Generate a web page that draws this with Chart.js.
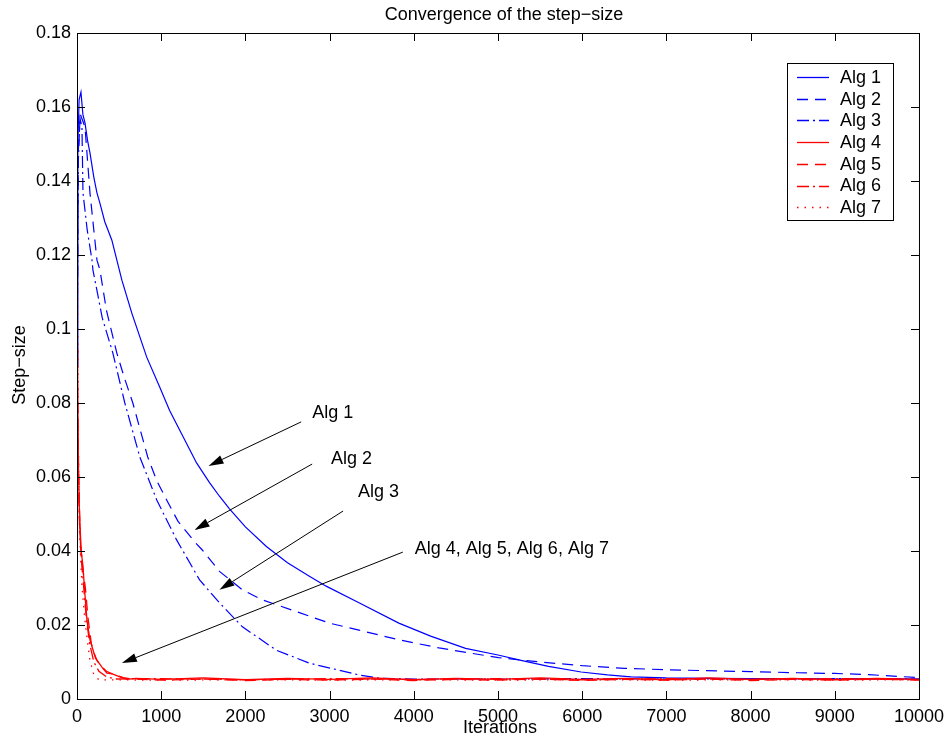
<!DOCTYPE html>
<html>
<head>
<meta charset="utf-8">
<script src="https://cdn.jsdelivr.net/npm/chart.js@4.4.0/dist/chart.umd.min.js"></script>
<style>
  html, body { margin: 0; padding: 0; background: #fff; }
</style>
</head>
<body>
<canvas id="mycanvas" width="951" height="738"></canvas>
<script>
// series names and axis ticks
var seriesNames = ['Alg 1', 'Alg 2', 'Alg 3', 'Alg 4', 'Alg 5', 'Alg 6', 'Alg 7'];
var xTicks = [0, 1000, 2000, 3000, 4000, 5000, 6000, 7000, 8000, 9000, 10000];
var yTicks = [0, 0.02, 0.04, 0.06, 0.08, 0.1, 0.12, 0.14, 0.16, 0.18];
var yTickLabels = ['0', '0.02', '0.04', '0.06', '0.08', '0.1', '0.12', '0.14', '0.16', '0.18'];

// values (iteration, step-size)
var alg1Iter = [0, 10, 25, 47, 70, 95, 125, 154, 200, 237, 272, 330, 414, 533, 651, 828, 982, 1100, 1219, 1420, 1574, 1692, 1811, 2000, 2249, 2500, 2750, 2959, 3349, 3822, 4200, 4615, 5000, 5300, 5600, 5988, 6300, 6580, 7000, 7500, 8000, 8500, 9000, 9500, 10000];
var alg1Step = [0.09, 0.15, 0.162, 0.164, 0.158, 0.1557, 0.151, 0.1476, 0.141, 0.1368, 0.134, 0.129, 0.124, 0.1132, 0.1043, 0.0924, 0.0843, 0.078, 0.0727, 0.0638, 0.0585, 0.0548, 0.0514, 0.0465, 0.0412, 0.0368, 0.0333, 0.0305, 0.026, 0.0205, 0.017, 0.0137, 0.0119, 0.0103, 0.0088, 0.0073, 0.0065, 0.006, 0.0057, 0.0056, 0.0055, 0.0055, 0.0054, 0.0055, 0.0054];

var alg2Iter = [0, 15, 40, 95, 154, 237, 272, 350, 473, 560, 663, 840, 947, 1065, 1200, 1396, 1491, 1692, 1965, 2200, 2556, 3000, 3349, 3822, 4300, 4700, 5006, 5500, 6000, 6500, 7000, 7600, 8000, 8556, 9000, 9400, 9740, 10000];
var alg2Step = [0.09, 0.148, 0.158, 0.1546, 0.1368, 0.1186, 0.116, 0.105, 0.0935, 0.087, 0.08, 0.0654, 0.059, 0.0538, 0.048, 0.0425, 0.0402, 0.0345, 0.0295, 0.0268, 0.024, 0.0205, 0.0186, 0.016, 0.0138, 0.0123, 0.0112, 0.01, 0.009, 0.0083, 0.0079, 0.0076, 0.0074, 0.0071, 0.0069, 0.0066, 0.0061, 0.0058];

var alg3Iter = [0, 15, 35, 59, 71, 120, 178, 189, 300, 426, 568, 746, 947, 1183, 1456, 1692, 1965, 2367, 2757, 3349, 3600, 4000, 5000, 6000, 7000, 8000, 9000, 10000];
var alg3Step = [0.09, 0.145, 0.157, 0.1546, 0.1368, 0.127, 0.1186, 0.116, 0.103, 0.0935, 0.08, 0.0654, 0.0538, 0.043, 0.0322, 0.026, 0.0195, 0.0132, 0.0097, 0.0065, 0.0056, 0.0054, 0.0054, 0.0055, 0.0054, 0.0054, 0.0055, 0.0054];

var alg4Iter = [0, 8, 15, 30, 50, 70, 95, 120, 154, 200, 237, 300, 355, 420, 509, 592, 700, 1000, 1500, 2000, 2500, 3000, 3500, 4000, 4500, 5000, 5500, 6000, 6500, 7000, 7500, 8000, 8500, 9000, 9500, 10000];
var alg4Step = [0.095, 0.09, 0.065, 0.05, 0.04, 0.036, 0.028, 0.021, 0.016, 0.0125, 0.0105, 0.0085, 0.007, 0.0068, 0.006, 0.0053, 0.0056, 0.0053, 0.0057, 0.0052, 0.0056, 0.0053, 0.0057, 0.0052, 0.0056, 0.0053, 0.0057, 0.0053, 0.0056, 0.0052, 0.0057, 0.0053, 0.0056, 0.0052, 0.0056, 0.0053];

var alg5Iter = [0, 10, 20, 40, 70, 100, 130, 170, 220, 280, 350, 450, 550, 650, 1000, 1500, 2000, 2500, 3000, 3500, 4000, 4500, 5000, 5500, 6000, 6500, 7000, 7500, 8000, 8500, 9000, 9500, 10000];
var alg5Step = [0.09, 0.08, 0.06, 0.042, 0.035, 0.03, 0.022, 0.015, 0.011, 0.009, 0.0075, 0.0065, 0.0058, 0.0054, 0.0051, 0.0054, 0.005, 0.0053, 0.0051, 0.0054, 0.005, 0.0053, 0.0051, 0.0054, 0.005, 0.0053, 0.0051, 0.0054, 0.005, 0.0053, 0.0051, 0.0054, 0.0051];

var alg6Iter = [0, 10, 25, 50, 80, 110, 150, 200, 260, 350, 450, 1000, 2000, 3000, 4000, 5000, 6000, 7000, 8000, 9000, 10000];
var alg6Step = [0.085, 0.07, 0.05, 0.038, 0.03, 0.022, 0.015, 0.01, 0.0075, 0.006, 0.0054, 0.0055, 0.0052, 0.0055, 0.0053, 0.0055, 0.0052, 0.0055, 0.0053, 0.0055, 0.0052];

var alg7Iter = [0, 5, 15, 30, 60, 100, 150, 200, 260, 1000, 2000, 3000, 4000, 5000, 6000, 7000, 8000, 9000, 10000];
var alg7Step = [0.165, 0.12, 0.07, 0.045, 0.03, 0.02, 0.011, 0.0065, 0.0052, 0.0051, 0.0052, 0.0051, 0.0052, 0.0051, 0.0052, 0.0051, 0.0052, 0.0051, 0.0052];

// arrows with labels, in data units
var notes = [
  { text: 'Alg 1', tx: 2793, ty: 0.0773, x1: 2663, y1: 0.0749, x2: 1562, y2: 0.0630 },
  { text: 'Alg 2', tx: 3018, ty: 0.0649, x1: 2793, y1: 0.0635, x2: 1396, y2: 0.0457 },
  { text: 'Alg 3', tx: 3337, ty: 0.0559, x1: 3160, y1: 0.0508, x2: 1692, y2: 0.0295 },
  { text: 'Alg 4, Alg 5, Alg 6, Alg 7', tx: 4012, ty: 0.0405, x1: 3870, y1: 0.0397, x2: 533, y2: 0.0097 }
];

var FONT = '18px "Liberation Sans", Arial, sans-serif';

function pts(xs, ys) {
  return xs.map(function(x, i) { return { x: x, y: ys[i] }; });
}

var allIter = [alg1Iter, alg2Iter, alg3Iter, alg4Iter, alg5Iter, alg6Iter, alg7Iter];
var allStep = [alg1Step, alg2Step, alg3Step, alg4Step, alg5Step, alg6Step, alg7Step];
var colors = ['#0000ff', '#0000ff', '#0000ff', '#ff0000', '#ff0000', '#ff0000', '#ff0000'];
var dashes = [[], [11, 7], [12, 4, 2, 4], [], [11, 7], [12, 4, 2, 4], [1.5, 6]];

var datasets = [];
for (var i = 0; i < seriesNames.length; i++) {
  datasets.push({
    label: seriesNames[i],
    data: pts(allIter[i], allStep[i]),
    borderColor: colors[i],
    borderDash: dashes[i],
    borderWidth: i >= 3 ? 1.3 : 1.2,
    pointRadius: 0,
    fill: false,
    tension: 0,
    order: seriesNames.length - i
  });
}

// matlab style box, inner ticks, titles, arrows and legend
var matlabLook = {
  id: 'matlabLook',
  afterDraw: function(chart) {
    var ctx = chart.ctx;
    var a = chart.chartArea;
    var xs = chart.scales.x, ys = chart.scales.y;
    ctx.save();
    ctx.strokeStyle = '#000';
    ctx.lineWidth = 1;
    ctx.strokeRect(a.left + 0.5, a.top + 0.5, a.right - a.left, a.bottom - a.top);
    ctx.beginPath();
    xTicks.forEach(function(v) {
      var px = Math.round(xs.getPixelForValue(v)) + 0.5;
      ctx.moveTo(px, a.bottom); ctx.lineTo(px, a.bottom - 8);
      ctx.moveTo(px, a.top); ctx.lineTo(px, a.top + 8);
    });
    yTicks.forEach(function(v) {
      var py = Math.round(ys.getPixelForValue(v)) + 0.5;
      ctx.moveTo(a.left, py); ctx.lineTo(a.left + 8, py);
      ctx.moveTo(a.right, py); ctx.lineTo(a.right - 8, py);
    });
    ctx.stroke();

    ctx.fillStyle = '#000';
    ctx.font = FONT;
    ctx.textAlign = 'center';
    ctx.textBaseline = 'alphabetic';
    ctx.fillText('Convergence of the step\u2212size', 504, 20);
    ctx.fillText('Iterations', 500, 733);
    ctx.save();
    ctx.translate(25, 365);
    ctx.rotate(-Math.PI / 2);
    ctx.fillText('Step\u2212size', 0, 0);
    ctx.restore();

    // arrows
    notes.forEach(function(n) {
      var x1 = xs.getPixelForValue(n.x1), y1 = ys.getPixelForValue(n.y1);
      var x2 = xs.getPixelForValue(n.x2), y2 = ys.getPixelForValue(n.y2);
      var ang = Math.atan2(y2 - y1, x2 - x1);
      var hl = 15, hw = 4.5;
      var bx = x2 - hl * Math.cos(ang), by = y2 - hl * Math.sin(ang);
      ctx.beginPath();
      ctx.moveTo(x1, y1); ctx.lineTo(bx, by);
      ctx.stroke();
      ctx.beginPath();
      ctx.moveTo(x2, y2);
      ctx.lineTo(bx + hw * Math.sin(ang), by - hw * Math.cos(ang));
      ctx.lineTo(bx - hw * Math.sin(ang), by + hw * Math.cos(ang));
      ctx.closePath();
      ctx.fill();
      ctx.textAlign = 'left';
      ctx.textBaseline = 'middle';
      ctx.fillText(n.text, xs.getPixelForValue(n.tx), ys.getPixelForValue(n.ty));
    });

    // legend
    ctx.fillStyle = '#fff';
    ctx.fillRect(787, 63, 106, 157);
    ctx.strokeStyle = '#000';
    ctx.strokeRect(787.5, 63.5, 106, 157);
    seriesNames.forEach(function(name, i) {
      var yy = 77 + i * 21.7;
      ctx.save();
      ctx.strokeStyle = colors[i];
      ctx.lineWidth = 1.3;
      ctx.setLineDash(dashes[i]);
      ctx.beginPath();
      ctx.moveTo(797, Math.round(yy) + 0.5); ctx.lineTo(829, Math.round(yy) + 0.5);
      ctx.stroke();
      ctx.restore();
      ctx.fillStyle = '#000';
      ctx.textAlign = 'left';
      ctx.textBaseline = 'middle';
      ctx.fillText(name, 840, yy + 1);
    });
    ctx.restore();
  }
};

var ctx = document.getElementById('mycanvas');
var chart = new Chart(ctx, {
  type: 'line',
  data: { datasets: datasets },
  options: {
    responsive: false,
    animation: false,
    layout: { padding: { top: 33, right: 29, left: 0, bottom: 0 } },
    plugins: { legend: { display: false }, title: { display: false }, tooltip: { enabled: false } },
    scales: {
      x: {
        type: 'linear', min: 0, max: 10000,
        afterBuildTicks: function(s) { s.ticks = xTicks.map(function(v) { return { value: v }; }); },
        afterFit: function(s) { s.height = 39; },
        ticks: { color: '#000', font: { family: '"Liberation Sans", Arial, sans-serif', size: 18 }, padding: 7, maxRotation: 0, autoSkip: false,
                 callback: function(v) { return String(v); } },
        grid: { display: false, drawTicks: false },
        border: { display: false }
      },
      y: {
        type: 'linear', min: 0, max: 0.18,
        afterBuildTicks: function(s) { s.ticks = yTicks.map(function(v) { return { value: v }; }); },
        afterFit: function(s) { s.width = 77; },
        ticks: { color: '#000', font: { family: '"Liberation Sans", Arial, sans-serif', size: 18 }, padding: 6, autoSkip: false,
                 callback: function(v, i) { return yTickLabels[i]; } },
        grid: { display: false, drawTicks: false },
        border: { display: false }
      }
    }
  },
  plugins: [matlabLook]
});
</script>
</body>
</html>
